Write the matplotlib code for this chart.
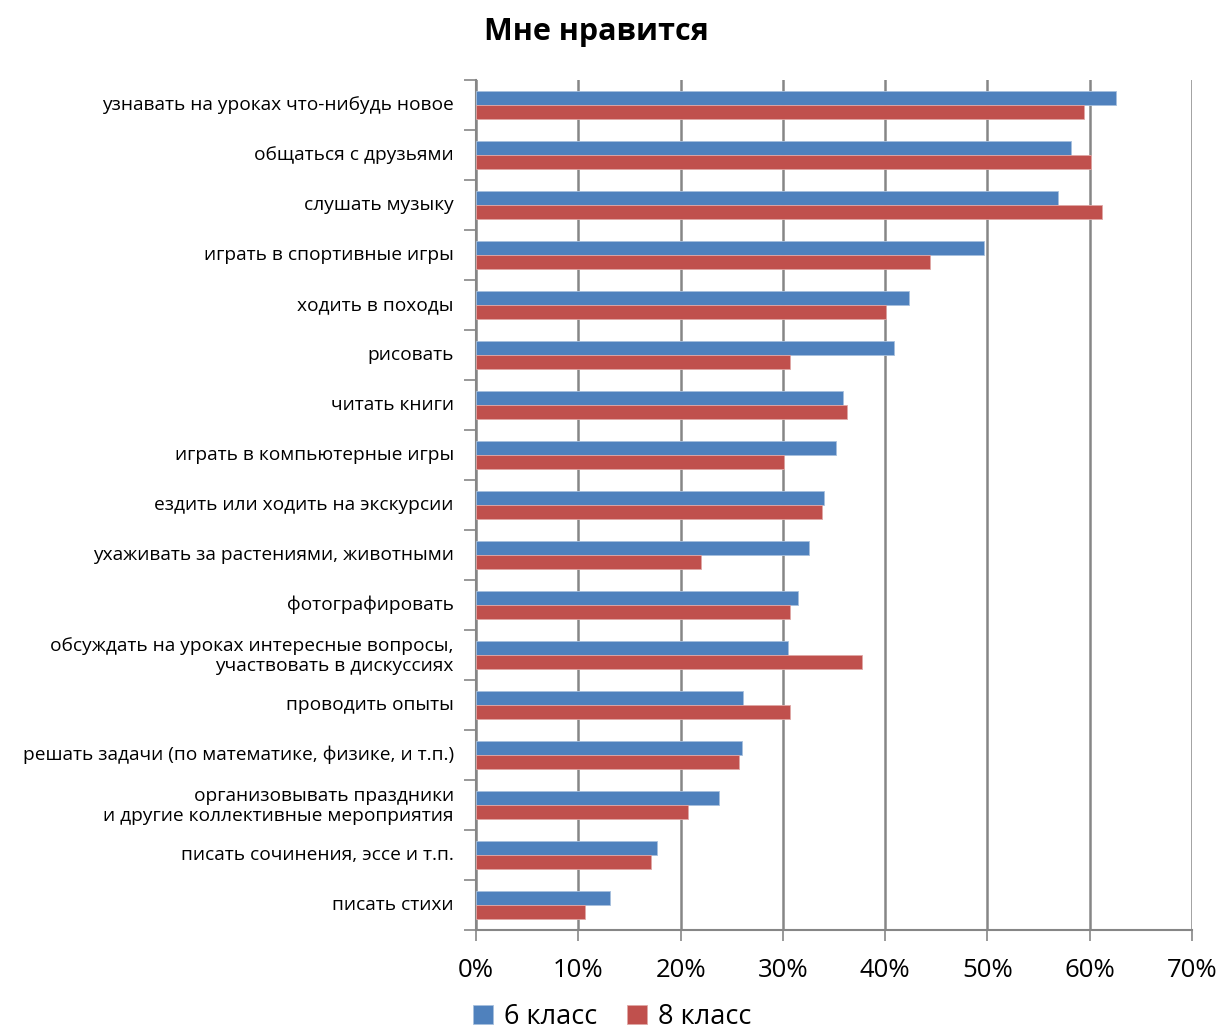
import numpy as np
import matplotlib
matplotlib.use("Agg")
from matplotlib import pyplot as plt
from matplotlib.ticker import FixedLocator, PercentFormatter

plt.rcParams['font.family'] = ['Open Sans', 'DejaVu Sans']

# labels from top to bottom
activities = [
    "узнавать на уроках что-нибудь новое",
    "общаться с друзьями",
    "слушать музыку",
    "играть в спортивные игры",
    "ходить в походы",
    "рисовать",
    "читать книги",
    "играть в компьютерные игры",
    "ездить или ходить на экскурсии",
    "ухаживать за растениями, животными",
    "фотографировать",
    "обсуждать на уроках интересные вопросы,\nучаствовать в дискуссиях",
    "проводить опыты",
    "решать задачи (по математике, физике, и т.п.)",
    "организовывать праздники\nи другие коллективные мероприятия",
    "писать сочинения, эссе и т.п.",
    "писать стихи",
]
grade6 = [62.6, 58.2, 56.9, 49.7, 42.3, 40.9, 35.9, 35.2, 34.0, 32.6,
          31.5, 30.5, 26.1, 26.0, 23.8, 17.7, 13.1]
grade8 = [59.4, 60.1, 61.2, 44.4, 40.1, 30.7, 36.3, 30.1, 33.8, 22.0,
          30.7, 37.7, 30.7, 25.7, 20.7, 17.1, 10.7]
series_names = ["6 класс", "8 класс"]

fig = plt.figure(figsize=(12.21, 10.29), dpi=100)
ax = fig.add_axes([476 / 1221, 1 - 930 / 1029, 716 / 1221, 850 / 1029])

y = np.arange(len(activities))
h = 0.28
ax.barh(y - h / 2, grade6, height=h, color="#4F81BD", edgecolor="#A7C0DE",
        linewidth=0.6, label=series_names[0], zorder=3)
ax.barh(y + h / 2, grade8, height=h, color="#C0504D", edgecolor="#E0A8A6",
        linewidth=0.6, label=series_names[1], zorder=3)

ax.set_ylim(len(activities) - 0.5, -0.5)
ax.set_xlim(0, 70)
ax.set_yticks(y - 0.04)
ax.set_yticklabels(activities, fontsize=13.8, linespacing=1.15)
ax.yaxis.set_minor_locator(FixedLocator(np.arange(-0.5, len(activities), 1)))
ax.tick_params(axis='y', which='major', length=0, pad=16)
ax.tick_params(axis='y', which='minor', length=9, width=1.2, color="#868686")

ax.set_xticks(np.arange(0, 71, 10))
ax.xaxis.set_major_formatter(PercentFormatter(decimals=0))
ax.tick_params(axis='x', length=8, width=1.2, color="#868686", labelsize=18.5, pad=12)

ax.grid(axis='x', color="#868686", linewidth=1.8, zorder=0)
for s in ['top', 'right']:
    ax.spines[s].set_visible(False)
for s in ['left', 'bottom']:
    ax.spines[s].set_color("#868686")
    ax.spines[s].set_linewidth(1.5)

fig.text(596 / 1221, 1 - 32 / 1029, "Мне нравится", fontsize=22, fontweight='bold',
         ha='center', va='center')

fig.legend(loc='center', bbox_to_anchor=(612 / 1221, 1 - 1017 / 1029), ncol=2,
           frameon=False, fontsize=19.5, handlelength=0.75, handleheight=0.75,
           handletextpad=0.4, columnspacing=1.1)

fig.savefig("out.png", dpi=100)
